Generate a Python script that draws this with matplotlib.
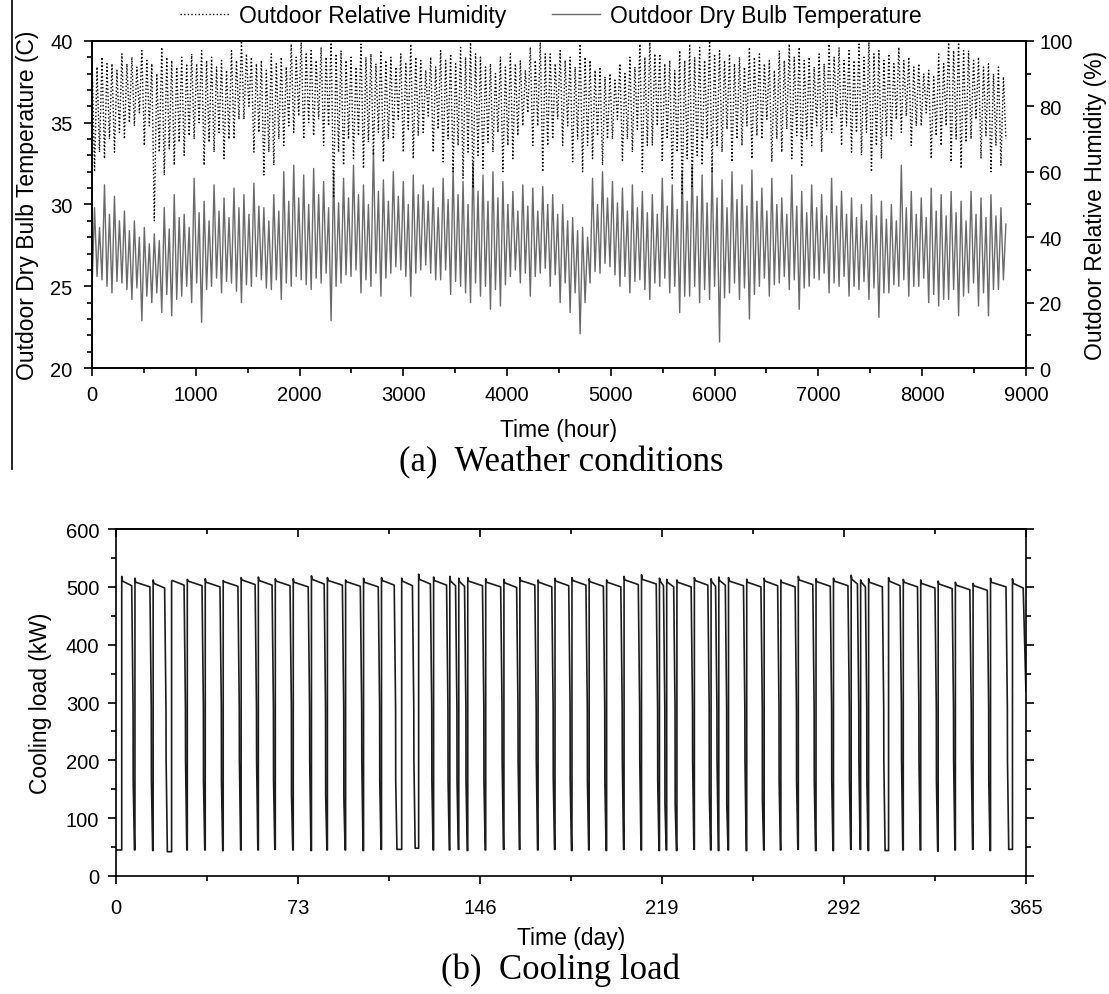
import numpy as np
import matplotlib
matplotlib.use('Agg')
import matplotlib.pyplot as plt
from matplotlib.lines import Line2D
from matplotlib.ticker import MultipleLocator

plt.rcParams['font.family'] = ['Liberation Sans', 'DejaVu Sans']

# ---- (a) weather: low / high read every 48 h ----
step_h = 48
temp_low = [25.0, 25.6, 25.4, 25.0, 24.6, 25.3, 25.2, 24.8, 24.2, 24.9,
            22.9, 24.4, 24.0, 24.6, 23.4, 24.5, 23.2, 24.2, 24.4, 25.0,
            24.0, 25.2, 22.8, 24.8, 25.0, 25.5, 24.6, 25.3, 25.2, 24.7,
            24.0, 25.1, 25.0, 25.6, 25.4, 24.9, 24.8, 25.4, 24.2, 25.2,
            25.0, 25.6, 25.4, 25.1, 24.8, 25.5, 25.2, 25.8, 22.9, 25.0,
            25.2, 25.7, 25.6, 26.0, 24.6, 25.4, 25.0, 25.8, 24.4, 25.5,
            25.8, 26.2, 26.0, 25.6, 24.4, 25.8, 26.0, 26.3, 25.8, 25.4,
            25.4, 26.0, 24.5, 25.3, 25.0, 24.6, 24.0, 25.2, 24.4, 25.0,
            23.6, 24.8, 23.8, 25.1, 25.6, 26.0, 25.2, 25.8, 24.4, 25.6,
            25.8, 26.1, 25.0, 25.7, 24.0, 25.2, 23.4, 24.6, 22.1, 24.0,
            25.2, 25.9, 25.8, 26.4, 26.2, 25.7, 25.0, 25.6, 24.6, 25.3,
            25.4, 24.8, 24.2, 25.2, 25.0, 25.5, 24.6, 25.0, 23.4, 24.4,
            24.4, 25.0, 24.0, 24.8, 24.2, 25.0, 21.6, 24.3, 24.6, 25.2,
            24.2, 24.9, 23.0, 24.5, 25.0, 25.5, 24.4, 25.1, 25.2, 25.6,
            24.8, 25.4, 23.6, 24.9, 25.0, 25.5, 25.4, 25.8, 24.6, 25.2,
            25.0, 25.6, 24.4, 25.0, 24.8, 25.3, 24.2, 24.9, 23.1, 24.6,
            24.6, 25.1, 25.0, 25.4, 24.4, 25.0, 25.0, 25.5, 24.0, 24.5,
            23.8, 24.2, 24.2, 24.8, 23.2, 24.4, 24.6, 25.2, 23.8, 24.6,
            23.2, 24.8, 24.8, 25.4]
temp_high = [29.8, 28.6, 31.2, 29.4, 30.5, 29.0, 29.6, 28.4, 29.0, 28.0,
             28.6, 27.6, 28.2, 27.8, 29.8, 28.5, 30.6, 29.2, 29.4, 28.6,
             31.6, 29.5, 30.2, 29.0, 31.2, 29.6, 30.4, 29.2, 31.0, 29.8,
             30.6, 29.4, 31.3, 29.9, 29.8, 29.0, 30.6, 29.6, 32.0, 30.2,
             32.4, 30.4, 31.8, 30.0, 32.2, 30.6, 31.4, 29.8, 32.0, 30.1,
             31.6, 30.4, 32.4, 30.6, 31.2, 30.0, 33.4, 30.8, 31.5, 30.2,
             32.0, 30.5, 31.4, 30.0, 31.8, 30.6, 31.2, 30.2, 31.0, 29.8,
             31.6, 30.3, 32.2, 30.6, 31.4, 30.0, 32.6, 30.8, 31.8, 30.2,
             32.0, 30.4, 31.4, 30.0, 30.8, 29.6, 31.2, 29.9, 31.0, 29.6,
             31.1, 30.0, 30.6, 29.4, 30.0, 29.0, 29.2, 28.4, 28.6, 28.0,
             31.6, 30.0, 32.0, 30.4, 31.4, 30.1, 31.0, 29.6, 31.2, 29.8,
             30.8, 29.5, 30.6, 29.4, 31.6, 29.9, 31.2, 29.7, 32.0, 30.2,
             32.4, 30.5, 31.8, 30.1, 32.2, 30.4, 31.5, 29.8, 32.0, 30.3,
             31.2, 29.9, 32.1, 30.2, 31.0, 29.6, 31.6, 30.0, 30.4, 29.4,
             31.8, 29.9, 30.8, 29.5, 31.2, 29.8, 30.6, 29.3, 31.6, 29.9,
             30.8, 29.4, 30.4, 29.2, 30.0, 29.0, 30.6, 29.3, 30.2, 29.1,
             30.0, 29.0, 32.4, 29.8, 30.8, 29.4, 30.4, 29.2, 31.0, 29.6,
             30.6, 29.3, 30.8, 29.5, 30.2, 29.0, 30.8, 29.4, 30.4, 29.2,
             30.6, 29.3, 29.8, 28.8]
rh_high = [94, 92, 95, 93, 93, 91, 96, 93, 95, 92, 97, 94, 93, 90, 98, 95, 94, 92, 95, 93,
           96, 93, 97, 94, 95, 92, 94, 91, 97, 94, 100, 96, 95, 93, 94, 91, 96, 93, 95, 92,
           99, 95, 100, 96, 97, 94, 98, 95, 100, 96, 97, 94, 95, 92, 99, 95, 96, 93, 97, 94,
           95, 92, 96, 93, 99, 95, 94, 91, 95, 92, 97, 94, 96, 93, 98, 95, 100, 96, 95, 92,
           93, 90, 95, 92, 96, 93, 94, 91, 98, 94, 100, 96, 96, 93, 97, 94, 95, 92, 99, 95,
           94, 91, 92, 89, 90, 88, 93, 90, 95, 92, 99, 95, 100, 96, 96, 93, 94, 91, 97, 94,
           99, 95, 98, 94, 100, 96, 97, 94, 96, 93, 95, 92, 98, 95, 96, 93, 94, 91, 97, 94,
           99, 95, 98, 94, 95, 92, 96, 93, 99, 95, 98, 94, 97, 94, 99, 95, 100, 96, 97, 94,
           96, 93, 98, 94, 95, 92, 93, 90, 91, 89, 96, 93, 100, 97, 100, 97, 97, 94, 95, 92,
           93, 90, 92, 89]
rh_low = [60, 66, 64, 70, 66, 72, 70, 75, 74, 78, 68, 74, 45, 66, 59, 67, 62, 69, 65, 71,
          70, 75, 62, 69, 66, 72, 64, 70, 70, 76, 76, 80, 66, 72, 59, 66, 62, 70, 68, 74,
          72, 77, 70, 75, 71, 76, 68, 74, 52, 66, 62, 70, 64, 71, 61, 69, 65, 72, 63, 70,
          70, 76, 66, 73, 64, 71, 72, 77, 66, 73, 63, 70, 60, 68, 58, 66, 55, 65, 61, 69,
          66, 72, 60, 68, 64, 71, 74, 78, 68, 74, 60, 68, 70, 76, 68, 74, 63, 70, 60, 68,
          64, 71, 62, 70, 70, 76, 63, 70, 66, 73, 60, 68, 68, 74, 63, 70, 58, 66, 53, 64,
          55, 65, 62, 70, 60, 68, 66, 73, 63, 70, 68, 74, 64, 71, 70, 76, 63, 70, 66, 73,
          64, 71, 62, 70, 68, 74, 66, 73, 72, 77, 68, 74, 66, 72, 65, 72, 60, 68, 64, 71,
          70, 76, 72, 77, 68, 74, 74, 78, 64, 71, 68, 74, 63, 70, 61, 69, 70, 76, 64, 71,
          60, 68, 62, 70]

# ---- (b) cooling load: weekly cycles (days) ----
low_from = [0.0, 7.4, 14.7, 20.6, 28.4, 35.6, 42.8, 50.0, 56.9, 63.7,
            70.9, 78.2, 84.6, 91.9, 99.1, 106.3, 112.7, 120.0, 127.2, 133.7,
            137.3, 140.9, 148.1, 155.4, 161.8, 169.1, 175.9, 182.7, 189.6, 196.6,
            203.6, 210.6, 217.8, 220.7, 224.8, 231.8, 238.5, 241.6, 245.5, 252.8,
            259.8, 266.5, 273.5, 280.6, 287.6, 294.7, 298.5, 301.7, 308.5, 315.6,
            322.6, 329.6, 336.5, 343.6, 350.6, 358.1]
low_to = [2.3, 7.6, 14.9, 22.3, 28.6, 35.8, 43.0, 50.2, 57.1, 63.9,
          71.1, 78.4, 84.8, 92.1, 99.3, 106.5, 114.6, 121.4, 127.4, 133.9,
          137.5, 141.1, 148.3, 155.6, 162.0, 169.3, 176.1, 182.9, 189.8, 196.8,
          203.8, 210.8, 218.0, 220.9, 225.0, 232.0, 238.7, 241.8, 245.7, 253.0,
          260.0, 266.7, 273.7, 280.8, 287.8, 294.9, 298.7, 301.9, 309.9, 315.8,
          322.8, 329.8, 336.7, 343.8, 350.8, 359.6]
min_load = [45, 45, 44, 42, 45, 45, 44, 45, 45, 46,
            45, 44, 45, 45, 44, 46, 46, 48, 45, 45,
            46, 44, 45, 46, 46, 45, 46, 44, 45, 44,
            46, 45, 44, 45, 44, 46, 45, 44, 45, 44,
            45, 45, 46, 44, 44, 46, 46, 44, 44, 45,
            45, 43, 45, 46, 44, 46]
peak_load = [518, 515, 512, 510, 513, 514, 511, 516, 517, 514,
             514, 519, 516, 512, 515, 516, 515, 522, 517, 518,
             515, 516, 514, 513, 516, 512, 515, 516, 514, 512,
             518, 521, 515, 513, 512, 516, 514, 517, 516, 513,
             515, 512, 518, 514, 515, 520, 512, 514, 516, 513,
             512, 510, 508, 506, 515, 514]
flat_load = [502, 500, 498, 503, 502, 500, 501, 504, 503, 502,
             500, 505, 503, 501, 500, 503, 502, 505, 503, 502,
             501, 502, 500, 499, 503, 500, 502, 503, 501, 500,
             504, 505, 502, 500, 500, 503, 501, 503, 502, 500,
             502, 500, 504, 501, 502, 505, 500, 500, 502, 500,
             498, 497, 495, 494, 500, 498]
step_load = [165, 165, 200, 200, 165, 165, 200, 200, 165, 140,
             200, 140, 135, 200, 165, 165, 200, 165, 165, 165,
             165, 165, 200, 200, 200, 170, 165, 165, 165, 200,
             200, 165, 125, 125, 200, 140, 200, 125, 200, 130,
             165, 165, 165, 165, 165, 200, 165, 200, 200, 200,
             165, 200, 200, 165, 200]
mid_load = 290
end_load = 320

# weather traces: low then high inside each sample
hours = np.arange(len(temp_low)) * step_h
wx = np.column_stack([hours, hours + step_h / 2]).ravel()
temp_y = np.column_stack([temp_low, temp_high]).ravel()
rh_y = np.column_stack([rh_high, rh_low]).ravel()

# cooling load trace
cx, cy = [0.0, low_to[0]], [min_load[0], min_load[0]]
for k in range(len(low_to)):
    start = low_to[k]
    last = k + 1 >= len(low_from)
    end = 365.0 if last else low_from[k + 1]
    cx += [start, start + 0.3, end - 1.1]
    cy += [peak_load[k], flat_load[k] + 8, flat_load[k]]
    if last:
        cx += [365.0]
        cy += [end_load]
    else:
        cx += [end - 0.55, end - 0.5, end, low_to[k + 1]]
        cy += [mid_load, step_load[k], min_load[k + 1], min_load[k + 1]]

fig = plt.figure(figsize=(11.09, 9.95), dpi=100)

# ---------- panel (a) ----------
ax1 = fig.add_axes([0.083, 0.629, 0.842, 0.329])
ln_t, = ax1.plot(wx, temp_y, color='#6a6a6a', lw=1.0)
ax1.set_xlim(0, 9000)
ax1.set_ylim(20, 40)
ax1.xaxis.set_major_locator(MultipleLocator(1000))
ax1.xaxis.set_minor_locator(MultipleLocator(500))
ax1.yaxis.set_major_locator(MultipleLocator(5))
ax1.yaxis.set_minor_locator(MultipleLocator(1))
ax1.tick_params(which='both', direction='out', top=False, right=False,
                labelsize=14.5, width=1.2)
ax1.tick_params(which='major', length=6)
ax1.tick_params(which='minor', length=3.5)
ax1.tick_params(axis='x', which='both', pad=6)
ax1.tick_params(axis='y', which='both', pad=8)
ax1.set_xlabel('Time (hour)', fontsize=16.5, labelpad=10)
ax1.set_ylabel('Outdoor Dry Bulb Temperature (C)', fontsize=16.5, labelpad=8)

ax1r = ax1.twinx()
ln_h, = ax1r.plot(wx, rh_y, color='black', lw=1.0, ls=(0, (1, 1.6)))
ax1r.set_ylim(0, 100)
ax1r.yaxis.set_major_locator(MultipleLocator(20))
ax1r.yaxis.set_minor_locator(MultipleLocator(10))
ax1r.tick_params(which='both', direction='out', labelsize=14.5, width=1.2)
ax1r.tick_params(which='major', length=6)
ax1r.tick_params(which='minor', length=3.5)
ax1r.set_ylabel('Outdoor Relative Humidity (%)', fontsize=16.5, labelpad=8)
for a in (ax1, ax1r):
    for s in a.spines.values():
        s.set_linewidth(1.2)

fig.legend([ln_h, ln_t], ['Outdoor Relative Humidity', 'Outdoor Dry Bulb Temperature'],
           loc='upper center', bbox_to_anchor=(0.497, 1.016), ncol=2, frameon=False,
           fontsize=16.5, handlelength=2.1, handletextpad=0.45, columnspacing=2.0)

fig.text(0.506, 1 - 463 / 995, '(a)  Weather conditions', family='Liberation Serif',
         fontsize=25, ha='center', va='center')

# ---------- panel (b) ----------
ax2 = fig.add_axes([0.1046, 0.1186, 0.8205, 0.3487])
ax2.plot(cx, cy, color='#1c1c1c', lw=1.2)
ax2.set_xlim(0, 365)
ax2.set_ylim(0, 600)
ax2.set_xticks([0, 73, 146, 219, 292, 365])
ax2.xaxis.set_minor_locator(MultipleLocator(36.5))
ax2.yaxis.set_major_locator(MultipleLocator(100))
ax2.yaxis.set_minor_locator(MultipleLocator(50))
ax2.tick_params(which='both', direction='out', top=False, right=True,
                labelsize=14.5, width=1.2)
ax2.tick_params(which='major', length=6)
ax2.tick_params(which='minor', length=3.5)
ax2.tick_params(axis='x', which='both', pad=10)
ax2.tick_params(axis='y', which='both', pad=6)
sec = ax2.secondary_xaxis('top')
sec.set_xticks([0, 73, 146, 219, 292, 365])
sec.xaxis.set_minor_locator(MultipleLocator(36.5))
sec.tick_params(which='both', direction='in', labeltop=False, width=1.2)
sec.tick_params(which='major', length=6)
sec.tick_params(which='minor', length=3.5)
sec.spines['top'].set_linewidth(1.2)
for s in ax2.spines.values():
    s.set_linewidth(1.2)
ax2.set_xlabel('Time (day)', fontsize=16.5, labelpad=6)
ax2.set_ylabel('Cooling load (kW)', fontsize=16.5, labelpad=10)

fig.text(0.505, 1 - 970 / 995, '(b)  Cooling load', family='Liberation Serif',
         fontsize=25, ha='center', va='center')

# scan edge line on the left of panel (a)
fig.add_artist(Line2D([12 / 1109, 12 / 1109], [1.0, 1 - 470 / 995], color='black', lw=1.2))

fig.savefig('out.png', dpi=100)
